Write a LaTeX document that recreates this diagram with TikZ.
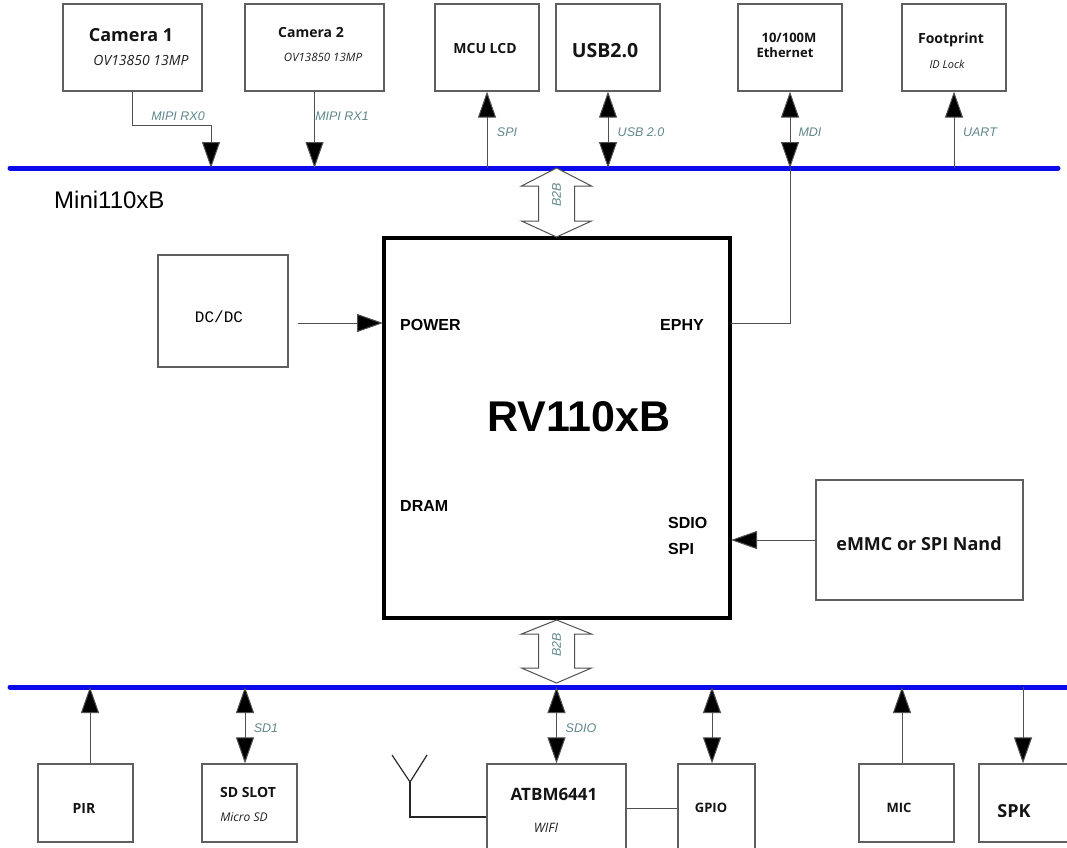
\documentclass[tikz,border=0pt]{standalone}
\usepackage{fontspec}
\setmainfont{Open Sans}
\newfontfamily\arialf{Liberation Sans}
\newfontfamily\monof{Liberation Mono}
\usetikzlibrary{arrows.meta}
\definecolor{busblue}{RGB}{10,10,235}
\definecolor{lblteal}{RGB}{95,135,140}
\definecolor{boxgray}{RGB}{95,95,95}
\definecolor{linegray}{RGB}{80,80,80}
\newcommand{\fs}[1]{\fontsize{#1}{#1}\selectfont}
\tikzset{
  box/.style={draw=boxgray, line width=1.2pt, inner sep=0pt},
  conn/.style={draw=linegray, line width=1pt},
  tip/.style={-{Triangle[length=26pt,width=18pt,fill=black]}},
  dtip/.style={{Triangle[length=26pt,width=18pt,fill=black]}-{Triangle[length=26pt,width=18pt,fill=black]}},
  bus/.style={draw=busblue, line width=5pt, line cap=round},
  lbl/.style={text=lblteal, font=\arialf\itshape\fs{12.5}, inner sep=0pt},
  ttl/.style={font=\bfseries\fs{#1}, inner sep=0pt, text=black!92},
  sub/.style={font=\itshape\fs{#1}, inner sep=0pt, text=black!88},
  chiplbl/.style={font=\arialf\bfseries\fs{16}, inner sep=0pt},
  b2b/.style={draw=linegray, line width=1pt, fill=white},
}
\begin{document}
\begin{tikzpicture}[x=1pt,y=-1pt]
\useasboundingbox (0,0) rectangle (1067,847);
\clip (0,0) rectangle (1067,847);
\fill[white] (0,0) rectangle (1067,847);

% ---- buses
\draw[bus] (10,168) coordinate (tb0) -- (1058,168) coordinate (tb1);
\draw[bus] (10,687) coordinate (bb0) -- (1075,687) coordinate (bb1);

% ---- top boxes
\node[box, minimum width=139pt, minimum height=87pt] (cam1) at (132.5,47.5) {};
\node[ttl=18] at (131,35) {Camera 1};
\node[sub=14] at (141,60) {OV13850 13MP};
\node[box, minimum width=139pt, minimum height=87pt] (cam2) at (314.5,47.5) {};
\node[ttl=14] at (311,32) {Camera 2};
\node[sub=11.5] at (323,57) {OV13850 13MP};
\node[box, minimum width=104pt, minimum height=87pt] (mcu) at (487,47.5) {};
\node[ttl=14] at (485,48) {MCU LCD};
\node[box, minimum width=104pt, minimum height=87pt] (usb) at (608,47.5) {};
\node[ttl=19.5] at (605,51) {USB2.0};
\node[box, minimum width=104pt, minimum height=87pt] (eth) at (790,47.5) {};
\node[ttl=13] at (789,38) {10/100M};
\node[ttl=13] at (785,53) {Ethernet};
\node[box, minimum width=104pt, minimum height=87pt] (foot) at (954,47.5) {};
\node[ttl=14] at (951,40) {Footprint};
\node[sub=11] at (947,64) {ID Lock};

% ---- top connectors
\coordinate (m0) at (211,168);
\coordinate (m1) at (314.5,168);
\coordinate (bmcu) at (487,168);
\coordinate (busb) at (608,168);
\coordinate (beth) at (790,168);
\coordinate (bfoot) at (954,168);
\draw[conn, tip] (cam1.south) -- ++(0,34) -| (m0);
\draw[conn, tip] (cam2.south) -- (m1);
\draw[conn, tip] (bmcu) -- (mcu.south);
\draw[conn, dtip] (busb) -- (usb.south);
\draw[conn, dtip] (beth) -- (eth.south);
\draw[conn, tip] (bfoot) -- (foot.south);
\node[lbl] at (178,116) {MIPI RX0};
\node[lbl] at (342,116) {MIPI RX1};
\node[lbl] at (507,132) {SPI};
\node[lbl] at (641,132) {USB 2.0};
\node[lbl] at (810,132) {MDI};
\node[lbl] at (980,132) {UART};

\node[font=\arialf\fs{24}, inner sep=0pt, anchor=west] at (54,200) {Mini110xB};

% ---- main chip
\node[draw=black, line width=4pt, minimum width=346pt, minimum height=380pt, inner sep=0pt] (chip) at (557,428) {};
\node[font=\arialf\bfseries\fs{43}, inner sep=0pt] at (579,417) {RV110xB};
\node[chiplbl, anchor=west] at (400,325) {POWER};
\node[chiplbl, anchor=east] at (704,325) {EPHY};
\node[chiplbl, anchor=west] at (400,506) {DRAM};
\node[chiplbl, anchor=west] at (668,523) {SDIO};
\node[chiplbl, anchor=west] at (668,549) {SPI};

% ---- B2B block arrows
\coordinate (b2bt) at (556.5,168);
\draw[b2b] (b2bt) -- ++(35,18) -- ++(-17,0) -- ++(0,35) -- ++(17,0) -- ++(-35,16)
  -- ++(-35,-16) -- ++(17,0) -- ++(0,-35) -- ++(-17,0) -- cycle;
\node[lbl, rotate=90] at (556.5,195) {B2B};
\coordinate (b2bb) at (556.5,620);
\draw[b2b] (b2bb) -- ++(35,14) -- ++(-17,0) -- ++(0,34) -- ++(17,0) -- ++(-35,15)
  -- ++(-35,-15) -- ++(17,0) -- ++(0,-34) -- ++(-17,0) -- cycle;
\node[lbl, rotate=90] at (556.5,645) {B2B};

% ---- DC/DC
\node[box, minimum width=130pt, minimum height=112pt] (dcdc) at (223,311) {};
\node[font=\monof\fs{16}, inner sep=0pt] at (219,317) {DC/DC};
\coordinate (dcs) at (298,323);
\coordinate (pwr) at (383,323);
\draw[conn, tip] (dcs) -- (pwr);

% ---- EPHY to ethernet
\coordinate (ephy) at (731,323);
\draw[conn] (ephy) -| (beth);

% ---- eMMC
\node[box, minimum width=207pt, minimum height=120pt] (emmc) at (919.5,540) {};
\node[ttl=18] at (919,544) {eMMC or SPI Nand};
\coordinate (sdio) at (731,540);
\draw[conn, tip] (emmc.west) -- (sdio);

% ---- bottom boxes
\node[box, minimum width=95pt, minimum height=78pt] (pir) at (85.5,803) {};
\node[ttl=14] at (84,808) {PIR};
\node[box, minimum width=95pt, minimum height=78pt] (sd) at (249.5,803) {};
\node[ttl=14] at (248,792) {SD SLOT};
\node[sub=12] at (244,817) {Micro SD};
\node[box, minimum width=139pt, minimum height=100pt] (atbm) at (556.5,814) {};
\node[ttl=17] at (554,794) {ATBM6441};
\node[sub=13] at (546,828) {WIFI};
\node[box, minimum width=77pt, minimum height=100pt] (gpio) at (716.5,814) {};
\node[ttl=13] at (711,808) {GPIO};
\node[box, minimum width=95pt, minimum height=78pt] (mic) at (906.5,803) {};
\node[ttl=13] at (899,808) {MIC};
\node[box, minimum width=100pt, minimum height=78pt] (spk) at (1029,803) {};
\node[ttl=18] at (1014,811) {SPK};

% ---- bottom connectors
\coordinate (bpir) at (90,687);
\coordinate (bsd) at (245,687);
\coordinate (batbm) at (556.5,687);
\coordinate (bgpio) at (712,687);
\coordinate (bmic) at (902,687);
\coordinate (bspk) at (1023,687);
\draw[conn, tip] (bpir |- pir.north) -- (bpir);
\draw[conn, dtip] (bsd) -- (bsd |- sd.north);
\draw[conn, dtip] (batbm) -- (atbm.north);
\draw[conn, dtip] (bgpio) -- (bgpio |- gpio.north);
\draw[conn, tip] (bmic |- mic.north) -- (bmic);
\draw[conn, tip] (bspk) -- (bspk |- spk.north);
\node[lbl] at (266,728) {SD1};
\node[lbl] at (581,728) {SDIO};

% ATBM to GPIO
\coordinate (ag) at (626,808);
\draw[conn] (ag) -- (ag -| gpio.west);

% antenna
\coordinate (ant) at (410,782);
\coordinate (antb) at (410,817);
\draw[conn, line width=1.2pt, draw=black!85] (392,755) -- (ant) -- (427,755);
\draw[conn, line width=1.2pt, draw=black!85] (ant) -- (antb) -- (antb -| atbm.west);
\end{tikzpicture}
\end{document}
